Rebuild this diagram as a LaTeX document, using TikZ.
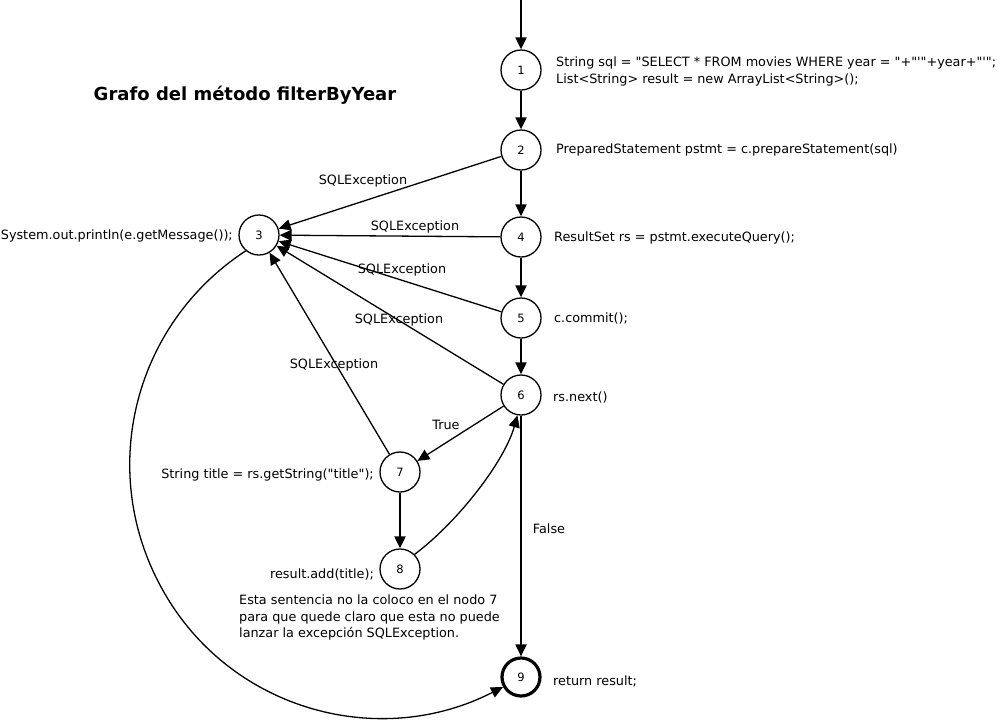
\documentclass[tikz,border=0pt]{standalone}
\usepackage{fontspec}
\newfontfamily\djv{DejaVu Sans}
\usetikzlibrary{arrows.meta}
\begin{document}
\begin{tikzpicture}[x=1pt,y=-1pt,
  every node/.style={font=\djv},
  st/.style={circle,draw,line width=1.3pt,minimum size=40pt,inner sep=0pt,font=\djv\fontsize{11.5}{13}\selectfont},
  fin/.style={st,line width=3.2pt,minimum size=38pt},
  txt/.style={inner sep=0pt,font=\djv\fontsize{12.8}{16.5}\selectfont},
  thick edge/.style={line width=2pt,-{Triangle[length=12pt,width=11pt]}},
  thin edge/.style={line width=1.3pt,-{Triangle[length=12pt,width=11pt]}}]
\useasboundingbox (0,0) rectangle (998,721);
% nodes
\node[st] (n1) at (521,70) {1};
\node[st] (n2) at (521,150) {2};
\node[st] (n3) at (259,235) {3};
\node[st] (n4) at (521,237) {4};
\node[st] (n5) at (521,318) {5};
\node[st] (n6) at (521,395) {6};
\node[st] (n7) at (400,472) {7};
\node[st] (n8) at (400,569) {8};
\node[fin] (n9) at (521,677) {9};
\coordinate (start) at (521,0);
% statement texts
\node[txt,anchor=west,align=left] (t1) at (556,71.5) {String sql = "SELECT * FROM movies WHERE year = "+"'"+year+"'";\\List<String> result = new ArrayList<String>();};
\node[txt,anchor=west] (t2) at (556,150) {PreparedStatement pstmt = c.prepareStatement(sql)};
\node[txt,anchor=east] (t3) at (233,236) {System.out.println(e.getMessage());};
\node[txt,anchor=west] (t4) at (554,238) {ResultSet rs = pstmt.executeQuery();};
\node[txt,anchor=west] (t5) at (554,318) {c.commit();};
\node[txt,anchor=west] (t6) at (553,397) {rs.next()};
\node[txt,anchor=east] (t7) at (374,475) {String title = rs.getString("title");};
\node[txt,anchor=east] (t8) at (374,574) {result.add(title);};
\node[txt,anchor=west] (t9) at (553,681) {return result;};
\node[txt,anchor=west,align=left] (note) at (239,617.5) {Esta sentencia no la coloco en el nodo 7\\para que quede claro que esta no puede\\lanzar la excepción SQLException.};
\node[inner sep=0pt,font=\djv\fontsize{18}{21}\selectfont\bfseries] (title) at (245,95) {Grafo del método filterByYear};
% edge labels
\node[txt] (l23) at (363,181) {SQLException};
\node[txt] (l43) at (415,227) {SQLException};
\node[txt] (l53) at (402,270) {SQLException};
\node[txt] (l63) at (399,320) {SQLException};
\node[txt] (l73) at (334,365) {SQLException};
\node[txt] (l67) at (446,425) {True};
\node[txt] (l69) at (549,529) {False};
% edges
\draw[thick edge] (start) -- (n1);
\draw[thick edge] (n1) -- (n2);
\draw[thick edge] (n2) -- (n4);
\draw[thick edge] (n4) -- (n5);
\draw[thick edge] (n5) -- (n6);
\draw[thick edge] (n7) -- (n8);
\draw[thick edge] (n6) -- (n9);
\draw[thin edge] (n2) -- (n3);
\draw[thin edge] (n4) -- (n3);
\draw[thin edge] (n5) -- (n3);
\draw[thin edge] (n6) -- (n3);
\draw[thin edge] (n7) -- (n3);
\draw[thin edge] (n6) -- (n7);
\draw[thin edge] (n8.45) .. controls (460,520) and (505,460) .. (n6.260);
\draw[thin edge] (n3.230) .. controls (131,326) and (96,476) .. (165,594) .. controls (233,711) and (380,750) .. (n9.209);
\end{tikzpicture}
\end{document}
